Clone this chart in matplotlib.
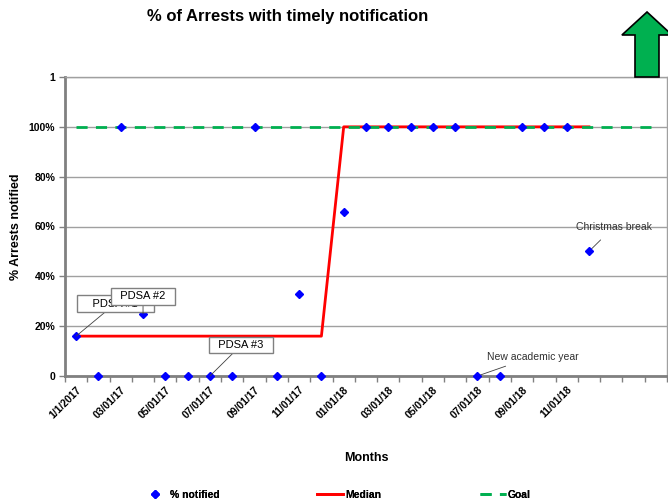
import matplotlib.pyplot as plt
from matplotlib.patches import Polygon

plt.rcParams['font.family'] = ['Liberation Sans', 'DejaVu Sans']

# monthly categories Jan 2017 .. Mar 2019 (last three empty)
n_cats = 27
tick_labels = ["1/1/2017", "03/01/17", "05/01/17", "07/01/17", "09/01/17", "11/01/17",
               "01/01/18", "03/01/18", "05/01/18", "07/01/18", "09/01/18", "11/01/18"]
pct_notified = [0.16, 0.0, 1.0, 0.25, 0.0, 0.0, 0.0, 0.0, 1.0, 0.0, 0.33, 0.0,
                0.66, 1.0, 1.0, 1.0, 1.0, 1.0, 0.0, 0.0, 1.0, 1.0, 1.0, 0.5]
median = [0.16] * 12 + [1.0] * 12
goal = [1.0] * n_cats
y_ticks = [0, 0.2, 0.4, 0.6, 0.8, 1.0, 1.2]
y_labels = ["0", "20%", "40%", "60%", "80%", "100%", "1"]

fig = plt.figure(figsize=(6.68, 5), dpi=100)
ax = fig.add_axes([0.0973, 0.248, 0.9012, 0.598])

x_all = list(range(n_cats))
l_med, = ax.plot(range(len(median)), median, color='#ff0000', lw=2, zorder=3)
l_goal, = ax.plot(x_all, goal, color='#00b050', lw=2, ls=(0, (4, 3)), zorder=4)
l_pct, = ax.plot(range(len(pct_notified)), pct_notified, ls='none', marker='D', ms=4.5,
                 color='#0000ff', zorder=5, clip_on=False)

ax.set_xlim(-0.5, n_cats - 0.5)
ax.set_ylim(0, 1.2)
ax.set_yticks(y_ticks)
ax.set_yticklabels(y_labels, fontsize=7.5, fontweight='bold')
ax.set_xticks(range(0, 24, 2))
ax.set_xticklabels(tick_labels, rotation=45, ha='right', rotation_mode='anchor',
                   fontsize=7.5, fontweight='bold')
ax.set_xticks([i + 0.5 for i in range(-1, n_cats)], minor=True)
ax.tick_params(axis='x', which='major', length=0, pad=6)
ax.tick_params(axis='x', which='minor', length=4, color='#808080', width=1)
ax.tick_params(axis='y', length=4, color='#808080', width=1, pad=3)
ax.grid(axis='y', color='#a0a0a0', lw=1)
ax.set_axisbelow(True)
for side in ['top', 'right']:
    ax.spines[side].set_color('#a0a0a0')
    ax.spines[side].set_linewidth(1)
for side in ['left', 'bottom']:
    ax.spines[side].set_color('#808080')
    ax.spines[side].set_linewidth(2)

ax.set_ylabel('% Arrests notified', fontsize=9, fontweight='bold', labelpad=5)
ax.set_xlabel('Months', fontsize=9, fontweight='bold', labelpad=23)
fig.text(0.43, 0.967, '% of Arrests with timely notification', ha='center', va='center',
         fontsize=12, fontweight='bold')

# callouts (PDSA #1 sits partly behind PDSA #2, as in the original)
box = dict(boxstyle='square,pad=0.3', fc='white', ec='#808080', lw=1)
line = dict(arrowstyle='-', color='#404040', lw=0.6, shrinkA=0, shrinkB=0)
ax.annotate('    PDSA #1    ', xy=(0, pct_notified[0]), xytext=(1.75, 0.29), fontsize=8,
            ha='center', va='center', bbox=box, arrowprops=line, zorder=6)
ax.annotate('  PDSA #2  ', xy=(3, pct_notified[3]), xytext=(3.0, 0.32), fontsize=8,
            ha='center', va='center', bbox=box, arrowprops=line, zorder=7)
ax.annotate('  PDSA #3  ', xy=(6, pct_notified[6]), xytext=(7.4, 0.124), fontsize=8,
            ha='center', va='center', bbox=box, arrowprops=line, zorder=6)
ax.annotate('New academic year', xy=(18, pct_notified[18]), xytext=(20.5, 0.078),
            fontsize=7.5, ha='center', va='center', color='#303030',
            arrowprops=dict(arrowstyle='-', color='#404040', lw=0.6, shrinkA=4, shrinkB=0))
ax.annotate('Christmas break', xy=(23, pct_notified[23]), xytext=(24.1, 0.597),
            fontsize=7.5, ha='center', va='center', color='#303030',
            arrowprops=dict(arrowstyle='-', color='#404040', lw=0.6, shrinkA=5, shrinkB=0))

# legend entries spread across the bottom
leg_font = {'size': 7.5, 'weight': 'bold'}
for handle, text, x0 in [(l_pct, '% notified', 0.199), (l_med, 'Median', 0.461),
                         (l_goal, 'Goal', 0.704)]:
    leg = fig.legend([handle], [text], loc='lower left', bbox_to_anchor=(x0, -0.018),
                     frameon=False, handlelength=2.5, handletextpad=0.2, prop=leg_font)
    fig.add_artist(leg)

# green "up is better" arrow
arrow = Polygon([(0.9506, 0.846), (0.9506, 0.93), (0.931, 0.93), (0.9686, 0.976),
                 (1.006, 0.93), (0.9865, 0.93), (0.9865, 0.846)],
                closed=True, transform=fig.transFigure, fc='#00b050', ec='black', lw=1.2)
fig.patches.append(arrow)

fig.savefig('out.png', dpi=100)
